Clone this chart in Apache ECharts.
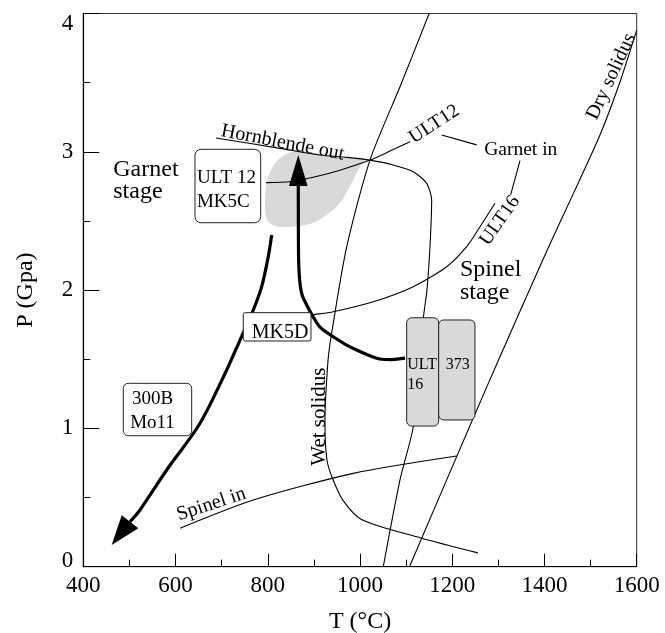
<!DOCTYPE html>
<html>
<head>
<meta charset="utf-8">
<script src="https://cdn.jsdelivr.net/npm/echarts@6/dist/echarts.min.js"></script>
<style>
  html, body { margin: 0; padding: 0; background: #fff; }
  #chart { width: 665px; height: 633px; }
</style>
</head>
<body>
<div id="chart"></div>
<script>
// ---- Phase boundaries, [T (°C), P (GPa)] ----
const wetSolidus = [[1150, 4.0], [1086.7, 3.47], [1021.6, 2.94], [971, 2.31], [938.6, 1.69], [930.6, 1.49],
  [924, 1.04], [928.4, 0.77], [941.4, 0.63], [963.1, 0.48], [1004.3, 0.34], [1130, 0.21], [1255.8, 0.10]];
const drySolidus = [[1107.3, 0], [1245.6, 1.075], [1303.5, 1.518], [1406, 2.29], [1466.1, 2.723],
  [1520.3, 3.121], [1563.7, 3.505], [1600, 3.88]];
const hornblendeOut = [[687.7, 3.10], [826.5, 3.025], [913.3, 2.977], [971.1, 2.96], [1021.6, 2.94],
  [1072.2, 2.905], [1115.5, 2.856], [1144.6, 2.772], [1155.4, 2.651], [1151.7, 2.312], [1145.2, 2.0],
  [1137.6, 1.806], [1126, 1.41], [1115.5, 1.01], [1086.7, 0.627], [1050.5, 0]];
const garnetInUlt12 = [[796.1, 2.777], [848.2, 2.784], [898.7, 2.816], [956.6, 2.867], [1021.6, 2.94],
  [1065, 3.005], [1108.4, 3.073]];
const garnetInUlt16 = [[880, 1.81], [895.2, 1.82], [942.1, 1.844], [1028.8, 1.916], [1115.5, 2.025],
  [1188, 2.169], [1231.3, 2.314], [1260.2, 2.458], [1292.7, 2.628]];
const spinelIn = [[609.7, 0.278], [768.6, 0.482], [985.4, 0.675], [1209.6, 0.80]];
const garnetInLeader12 = [[1177.1, 3.122], [1253, 3.05]];
const garnetInLeader16 = [[1346.9, 2.936], [1326.7, 2.688]];

// ---- P-T paths (last point = arrow tip, the one before = arrow base) ----
const pathMK5D = [[1097.5, 1.508], [1069.3, 1.498], [1043.3, 1.502], [1017.3, 1.531], [992.8, 1.567],
  [967.4, 1.61], [942.1, 1.663], [913.2, 1.733], [898.7, 1.805], [884.4, 1.892], [873.5, 1.977],
  [868.3, 2.109], [866.6, 2.29], [866.2, 2.753], [866.2, 2.977]];
const path300B = [[808.5, 2.398], [801.1, 2.242], [786.8, 2.025], [768.6, 1.856], [739.8, 1.639],
  [710.9, 1.422], [653.1, 1.037], [580.8, 0.699], [522.9, 0.41], [501.3, 0.325], [461.6, 0.157]];

// ---- Garnet-stage P-T field for ULT 12 / MK5C ----
const garnetField = [[800.5, 2.811], [822.2, 2.942], [859.0, 3.006], [891.6, 2.999], [935, 2.97],
  [978.3, 2.952], [1008.7, 2.952], [993.5, 2.854], [978.3, 2.753], [956.6, 2.63], [924.1, 2.536],
  [891.6, 2.478], [848.2, 2.457], [815.7, 2.464], [798.4, 2.508], [794, 2.652]];

// ---- Sample boxes: [Tmin, Pmin, Tmax, Pmax] ----
const boxNames = ['ULT 12 / MK5C', 'MK5D', '300B / Mo11', 'ULT 16', '373'];
const boxRanges = [[642.2, 2.487, 784.6, 3.018], [746.9, 1.632, 893.7, 1.837], [486.7, 0.947, 635, 1.326],
  [1101.2, 1.017, 1170.6, 1.80], [1170.6, 1.061, 1249.3, 1.784]];

// ---- Annotations ----
const labelTexts = ['Garnet\nstage', 'Spinel\nstage', 'Hornblende out', 'Garnet in', 'ULT12', 'ULT16',
  'Dry solidus', 'Wet solidus', 'Spinel in', 'ULT 12\nMK5C', 'MK5D', '300B\nMo11', 'ULT\n16', '373'];
const labelAnchors = [[465, 2.789], [1216.8, 2.066], [832.4, 3.066], [1348.6, 3.011], [1161, 3.199],
  [1303.5, 2.502], [1544.8, 3.544], [912.6, 1.085], [677.8, 0.451], [646.5, 2.724], [826.5, 1.69],
  [550, 1.126], [1102.5, 1.388], [1211.8, 1.462]];

// ---- Axis ranges ----
const tempRange = [400, 1600];
const pressRange = [0, 4];

// styling
const FONT = 'Liberation Serif';
const labelStyles = [
  { size: 24, lh: 22, align: 'left' },
  { size: 24, lh: 23, align: 'left' },
  { size: 20, rot: -11 },
  { size: 19.5 },
  { size: 19.5, rot: 33 },
  { size: 19.5, rot: 55 },
  { size: 20, rot: 65 },
  { size: 21, rot: 90 },
  { size: 20, rot: 18.4 },
  { size: 19, lh: 24, align: 'left' },
  { size: 20 },
  { size: 19, lh: 23.5 },
  { size: 16, lh: 19.5, align: 'left' },
  { size: 16 }
];
const boxStyles = [
  { fill: '#fff', r: 6 }, { fill: '#fff', r: 2 }, { fill: '#fff', r: 5 },
  { fill: '#d9d9d9', r: 5 }, { fill: '#d9d9d9', r: 5 }
];
const arrowHalfWidths = [9.3, 10.6];

function thinLine(data, z) {
  return {
    type: 'line', data: data, showSymbol: false, symbol: 'none', smooth: 0.25, z: z || 2,
    lineStyle: { color: '#000', width: 1.1 }, silent: true
  };
}
function thickLine(path) {
  return {
    type: 'line', data: path.slice(0, -1), showSymbol: false, symbol: 'none', smooth: 0.3, z: 3,
    lineStyle: { color: '#000', width: 3.2 }, silent: true
  };
}

const arrowPaths = [pathMK5D, path300B];

const chart = echarts.init(document.getElementById('chart'), null, { renderer: 'canvas' });
chart.setOption({
  animation: false,
  backgroundColor: '#fff',
  textStyle: { fontFamily: FONT },
  grid: {
    left: 83.3, right: 28.3, top: 13.5, bottom: 66.3, containLabel: false, outerBoundsMode: 'none',
    show: true, borderColor: '#333', borderWidth: 1, backgroundColor: 'transparent'
  },
  xAxis: {
    type: 'value', min: tempRange[0], max: tempRange[1], interval: 200,
    name: 'T (°C)', nameLocation: 'middle', nameGap: 43,
    nameTextStyle: { fontFamily: FONT, fontSize: 24, color: '#000' },
    axisLine: { show: true, onZero: false, lineStyle: { color: '#000', width: 1.2 } },
    axisTick: { show: true, inside: true, length: 13, lineStyle: { color: '#000', width: 1 } },
    minorTick: { show: true, splitNumber: 2, length: 7, lineStyle: { color: '#000', width: 1 } },
    splitLine: { show: false },
    axisLabel: {
      fontFamily: FONT, fontSize: 23, color: '#000', margin: 8,
      formatter: function (v) { return String(v); }
    }
  },
  yAxis: {
    type: 'value', min: pressRange[0], max: pressRange[1], interval: 1,
    name: 'P (Gpa)', nameLocation: 'middle', nameGap: 46, nameRotate: 90,
    nameTextStyle: { fontFamily: FONT, fontSize: 24, color: '#000' },
    axisLine: { show: true, onZero: false, lineStyle: { color: '#000', width: 1.2 } },
    axisTick: { show: true, inside: true, length: 16, lineStyle: { color: '#000', width: 1 } },
    minorTick: { show: true, splitNumber: 2, length: 7, lineStyle: { color: '#000', width: 1 } },
    splitLine: { show: false },
    axisLabel: {
      fontFamily: FONT, fontSize: 23, color: '#000', margin: 10,
      formatter: function (v) {
        if (v === 4) return '{t|4}';
        if (v === 0) return '{b|0}';
        return '{n|' + v + '}';
      },
      rich: {
        t: { fontFamily: FONT, fontSize: 23, color: '#000', padding: [21, 0, 0, 0] },
        b: { fontFamily: FONT, fontSize: 23, color: '#000', padding: [0, 0, 12, 0] },
        n: { fontFamily: FONT, fontSize: 23, color: '#000' }
      }
    }
  },
  series: [
    // shaded garnet-stage field
    {
      type: 'custom', z: 1, silent: true, data: [garnetField[0]],
      renderItem: function (params, api) {
        return {
          type: 'polygon',
          shape: { points: garnetField.map(function (p) { return api.coord(p); }), smooth: 0.35 },
          style: { fill: '#d9d9d9', stroke: 'none' }
        };
      }
    },
    thinLine(wetSolidus),
    thinLine(drySolidus),
    thinLine(hornblendeOut),
    thinLine(garnetInUlt12),
    thinLine(garnetInUlt16),
    thinLine(spinelIn),
    thinLine(garnetInLeader12),
    thinLine(garnetInLeader16),
    thickLine(pathMK5D),
    thickLine(path300B),
    // arrow heads
    {
      type: 'custom', z: 3, silent: true,
      data: arrowPaths.map(function (p) { return p[p.length - 1]; }),
      renderItem: function (params, api) {
        const path = arrowPaths[params.dataIndex];
        const hw = arrowHalfWidths[params.dataIndex];
        const tip = api.coord(path[path.length - 1]);
        const base = api.coord(path[path.length - 2]);
        const dx = tip[0] - base[0], dy = tip[1] - base[1];
        const len = Math.sqrt(dx * dx + dy * dy);
        const nx = -dy / len * hw, ny = dx / len * hw;
        return {
          type: 'polygon',
          shape: { points: [tip, [base[0] + nx, base[1] + ny], [base[0] - nx, base[1] - ny]] },
          style: { fill: '#000' }
        };
      }
    },
    // sample boxes
    {
      type: 'custom', z: 4, silent: true,
      data: boxRanges,
      renderItem: function (params, api) {
        const tl = api.coord([api.value(0), api.value(3)]);
        const br = api.coord([api.value(2), api.value(1)]);
        const st = boxStyles[params.dataIndex];
        return {
          type: 'rect',
          shape: { x: tl[0], y: tl[1], width: br[0] - tl[0], height: br[1] - tl[1], r: st.r },
          style: { fill: st.fill, stroke: '#222', lineWidth: 1 }
        };
      }
    },
    // text annotations
    {
      type: 'custom', z: 5, silent: true, clip: false,
      data: labelAnchors,
      renderItem: function (params, api) {
        const i = params.dataIndex;
        const st = labelStyles[i];
        const pt = api.coord([api.value(0), api.value(1)]);
        return {
          type: 'text',
          x: pt[0], y: pt[1],
          rotation: (st.rot || 0) * Math.PI / 180,
          style: {
            text: labelTexts[i],
            font: st.size + 'px "' + FONT + '"',
            lineHeight: st.lh || st.size,
            fill: '#000',
            align: st.align || 'center',
            verticalAlign: 'middle'
          }
        };
      }
    }
  ]
});
</script>
</body>
</html>
